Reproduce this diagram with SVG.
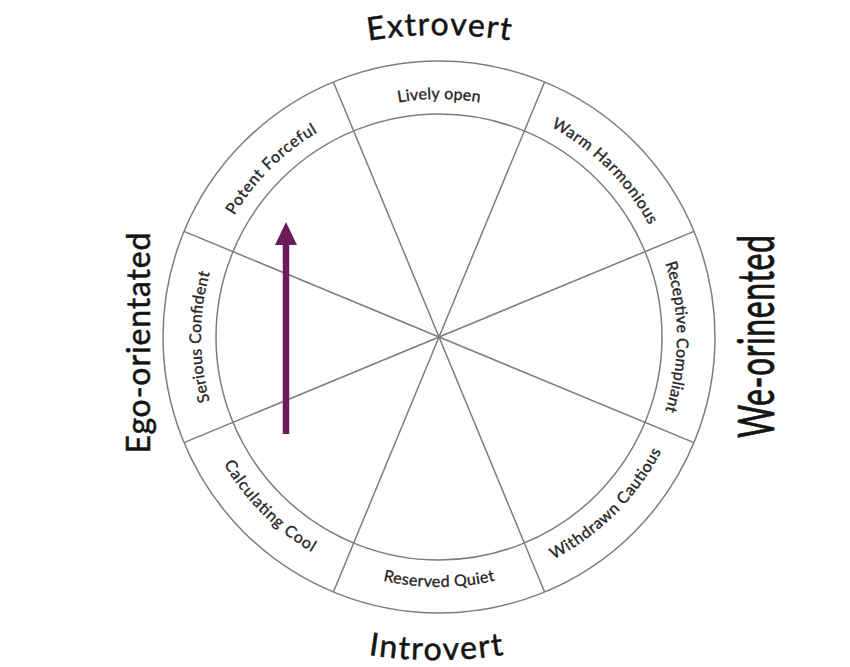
<svg xmlns="http://www.w3.org/2000/svg" xmlns:xlink="http://www.w3.org/1999/xlink" width="850" height="667" viewBox="0 0 850 667">
  <style>
    .ring { fill: none; stroke: #7d7d7d; stroke-width: 1.5; }
    .spoke { stroke: #7d7d7d; stroke-width: 1.5; }
    .seg { font-family: Lato, "Open Sans", sans-serif; font-size: 16px; fill: #262626; stroke: #262626; stroke-width: 0.35; }
    .axis { font-family: Lato, "Open Sans", sans-serif; font-size: 32px; fill: #141414; stroke: #141414; stroke-width: 0.5; }
    .arrow { stroke: #6b1d59; stroke-width: 6.5; fill: none; }
    .arrowhead { fill: #6b1d59; }
  </style>
  <defs>
    <!-- label guide arcs around the wheel centre (439,337) -->
    <path id="p-top" d="M286,154.7 A238,238 0 0 1 592,154.7"/>
    <path id="p-ur" d="M459.8,99.9 A238,238 0 0 1 676.1,316.2"/>
    <path id="p-r" d="M621.3,184 A238,238 0 0 1 621.3,490"/>
    <path id="p-l" d="M256.7,490 A238,238 0 0 1 256.7,184"/>
    <path id="p-ul" d="M201.9,316.2 A238,238 0 0 1 418.2,99.9"/>
    <path id="p-b" d="M278.3,528.5 A250,250 0 0 0 599.7,528.5"/>
    <path id="p-lr" d="M460.8,586.05 A250,250 0 0 0 688.05,358.8"/>
    <path id="p-ll" d="M189.95,358.8 A250,250 0 0 0 417.2,586.05"/>
    <!-- outer axis arcs -->
    <path id="p-extro" d="M289,60.7 A450,450 0 0 1 589,60.7"/>
    <path id="p-intro" d="M286,634.3 A450,450 0 0 0 586,634.3"/>
  </defs>

  <rect width="850" height="667" fill="#ffffff"/>

  <g id="wheel">
    <circle class="ring" cx="439" cy="337" r="276"/>
    <circle class="ring" cx="439" cy="337" r="223"/>
    <line class="spoke" x1="544.6" y1="82" x2="333.4" y2="592"/>
    <line class="spoke" x1="694" y1="231.4" x2="184" y2="442.6"/>
    <line class="spoke" x1="694" y1="442.6" x2="184" y2="231.4"/>
    <line class="spoke" x1="544.6" y1="592" x2="333.4" y2="82"/>
  </g>

  <g id="lively-open">
    <text class="seg" text-anchor="middle"><textPath xlink:href="#p-top" href="#p-top" startOffset="50%" textLength="82">Lively open</textPath></text>
  </g>
  <g id="warm-harmonious">
    <text class="seg" text-anchor="middle"><textPath xlink:href="#p-ur" href="#p-ur" startOffset="50%" textLength="141">Warm Harmonious</textPath></text>
  </g>
  <g id="receptive-compliant">
    <text class="seg" text-anchor="middle"><textPath xlink:href="#p-r" href="#p-r" startOffset="50%" textLength="150">Receptive Compliant</textPath></text>
  </g>
  <g id="withdrawn-cautious">
    <text class="seg" text-anchor="middle"><textPath xlink:href="#p-lr" href="#p-lr" startOffset="50%" textLength="155">Withdrawn Cautious</textPath></text>
  </g>
  <g id="reserved-quiet">
    <text class="seg" text-anchor="middle"><textPath xlink:href="#p-b" href="#p-b" startOffset="50%" textLength="113">Reserved Quiet</textPath></text>
  </g>
  <g id="calculating-cool">
    <text class="seg" text-anchor="middle"><textPath xlink:href="#p-ll" href="#p-ll" startOffset="50%" textLength="126">Calculating Cool</textPath></text>
  </g>
  <g id="serious-confident">
    <text class="seg" text-anchor="middle"><textPath xlink:href="#p-l" href="#p-l" startOffset="50%" textLength="130">Serious Confident</textPath></text>
  </g>
  <g id="potent-forceful">
    <text class="seg" text-anchor="middle"><textPath xlink:href="#p-ul" href="#p-ul" startOffset="50%" textLength="119">Potent Forceful</textPath></text>
  </g>

  <g id="extrovert">
    <text class="axis" text-anchor="middle"><textPath xlink:href="#p-extro" href="#p-extro" startOffset="50%" textLength="142">Extrovert</textPath></text>
  </g>
  <g id="introvert">
    <text class="axis" text-anchor="middle"><textPath xlink:href="#p-intro" href="#p-intro" startOffset="50%" textLength="136">Introvert</textPath></text>
  </g>
  <g id="ego-orientated">
    <text class="axis" text-anchor="middle" font-size="34" textLength="221" transform="translate(150,343) rotate(-90)">Ego-orientated</text>
  </g>
  <g id="we-orinented">
    <text class="axis" text-anchor="middle" textLength="203" transform="translate(774,336.5) rotate(-90) scale(1,1.6)">We-orinented</text>
  </g>

  <g id="connectors">
    <line class="arrow" x1="286" y1="434" x2="286" y2="242"/>
    <polygon class="arrowhead" points="275,245 297,245 286,222"/>
  </g>
</svg>
